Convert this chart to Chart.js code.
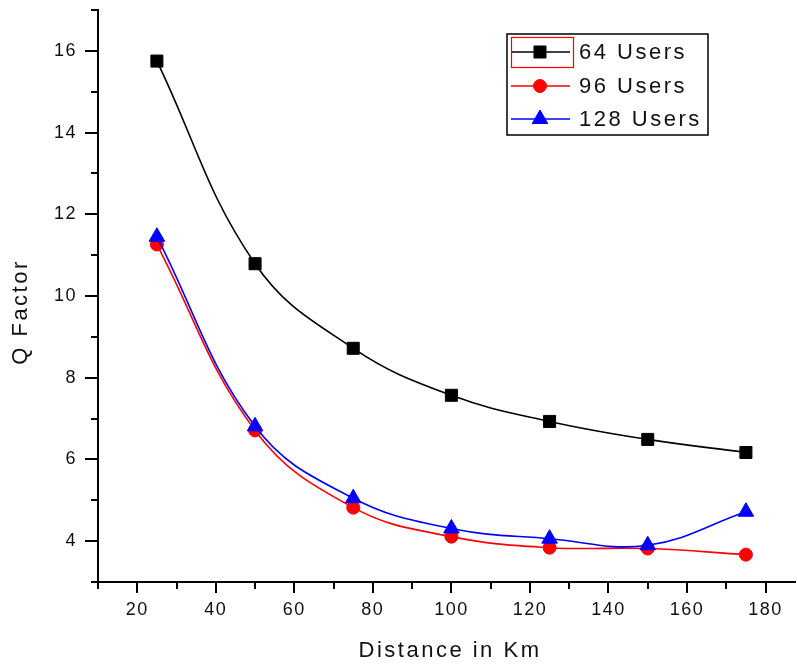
<!DOCTYPE html>
<html>
<head>
<meta charset="utf-8">
<script src="https://cdn.jsdelivr.net/npm/chart.js@4.4.1/dist/chart.umd.min.js"></script>
<style>
html,body{margin:0;padding:0;background:#fff;}
canvas{display:block;}
</style>
</head>
<body>
<canvas id="c" width="797" height="664"></canvas>
<script>
const distances = [25, 50, 75, 100, 125, 150, 175];
const users64 = [15.75, 10.79, 8.72, 7.57, 6.93, 6.49, 6.17];
const users96 = [11.26, 6.71, 4.82, 4.11, 3.84, 3.82, 3.67];
const users128 = [11.45, 6.81, 5.05, 4.31, 4.06, 3.90, 4.72];
const seriesNames = ['64 Users', '96 Users', '128 Users'];
const xMajorTicks = [20, 40, 60, 80, 100, 120, 140, 160, 180];
const xMinorTicks = [10, 30, 50, 70, 90, 110, 130, 150, 170];
const yMajorTicks = [4, 6, 8, 10, 12, 14, 16];
const yMinorTicks = [3, 5, 7, 9, 11, 13, 15, 17];
const xTitle = 'Distance in Km';
const yTitle = 'Q Factor';

const FONT = '"Liberation Sans", Arial, sans-serif';
const toXY = (vals) => vals.map((v, i) => ({x: distances[i], y: v}));

const styles = [
  {color: '#000000', pointStyle: 'rect', radius: 8.5, order: 1},
  {color: '#ff0000', pointStyle: 'circle', radius: 6.5, order: 2},
  {color: '#0000ff', pointStyle: 'triangle', radius: 9, order: 0}
];
const allSeries = [users64, users96, users128];

const datasets = allSeries.map((vals, i) => ({
  label: seriesNames[i],
  data: toXY(vals),
  borderColor: styles[i].color,
  backgroundColor: styles[i].color,
  pointBackgroundColor: styles[i].color,
  pointBorderColor: styles[i].color,
  pointStyle: styles[i].pointStyle,
  pointRadius: styles[i].radius,
  pointHoverRadius: styles[i].radius,
  pointBorderWidth: 1,
  borderWidth: 1.6,
  tension: 0.4,
  cubicInterpolationMode: 'default',
  fill: false,
  order: styles[i].order
}));

const decorPlugin = {
  id: 'decor',
  beforeDraw(chart) {
    chart.ctx.letterSpacing = '1.5px';
  },
  afterDraw(chart) {
    const ctx = chart.ctx;
    const xs = chart.scales.x, ys = chart.scales.y;
    const area = chart.chartArea;
    ctx.save();
    ctx.letterSpacing = '0px';
    ctx.strokeStyle = '#000';
    ctx.lineWidth = 2;
    ctx.beginPath();
    xMajorTicks.forEach(v => { const p = Math.round(xs.getPixelForValue(v)); ctx.moveTo(p, area.bottom); ctx.lineTo(p, area.bottom + 11); });
    xMinorTicks.forEach(v => { const p = Math.round(xs.getPixelForValue(v)); ctx.moveTo(p, area.bottom); ctx.lineTo(p, area.bottom + 7); });
    yMajorTicks.forEach(v => { const p = Math.round(ys.getPixelForValue(v)); ctx.moveTo(area.left, p); ctx.lineTo(area.left - 13, p); });
    yMinorTicks.forEach(v => { const p = Math.round(ys.getPixelForValue(v)); ctx.moveTo(area.left, p); ctx.lineTo(area.left - 7, p); });
    ctx.stroke();

    // axis titles
    ctx.fillStyle = '#111';
    ctx.font = '22px ' + FONT;
    ctx.letterSpacing = '2.5px';
    ctx.textAlign = 'center';
    ctx.textBaseline = 'middle';
    ctx.fillText(xTitle, 450, 651);
    ctx.save();
    ctx.translate(21, 312);
    ctx.rotate(-Math.PI / 2);
    ctx.fillText(yTitle, 0, 0);
    ctx.restore();

    // legend
    const bx = 507, by = 34, bw = 201, bh = 101;
    ctx.lineWidth = 1.5;
    ctx.strokeStyle = '#000';
    ctx.strokeRect(bx, by, bw, bh);
    const rowsY = [52, 86, 119];
    seriesNames.forEach((name, i) => {
      const y = rowsY[i];
      ctx.strokeStyle = styles[i].color;
      ctx.lineWidth = 1.6;
      ctx.beginPath();
      ctx.moveTo(511, y); ctx.lineTo(570, y);
      ctx.stroke();
      ctx.fillStyle = styles[i].color;
      ctx.lineWidth = 1;
      Chart.helpers.drawPoint(ctx, {pointStyle: styles[i].pointStyle, radius: styles[i].radius, rotation: 0, borderWidth: 1}, 540, y);
      ctx.fillStyle = '#111';
      ctx.textAlign = 'left';
      ctx.textBaseline = 'middle';
      ctx.font = '22px ' + FONT;
      ctx.letterSpacing = '2.5px';
      ctx.fillText(name, 579, y + 1);
    });
    ctx.strokeStyle = '#ff0000';
    ctx.lineWidth = 1.2;
    ctx.strokeRect(511.5, 37.5, 62, 30);
    ctx.restore();
  }
};

new Chart(document.getElementById('c'), {
  type: 'line',
  data: {datasets},
  options: {
    responsive: false,
    animation: false,
    events: [],
    layout: {autoPadding: false, padding: {left: 0, right: 2, top: 10, bottom: 0}},
    plugins: {legend: {display: false}, tooltip: {enabled: false}},
    scales: {
      x: {
        type: 'linear',
        min: 10,
        max: 187.5,
        afterBuildTicks: (s) => { s.ticks = xMajorTicks.map(v => ({value: v})); },
        afterFit: (s) => { s.height = 82; s.paddingLeft = 0; s.paddingRight = 0; },
        grid: {display: true, drawOnChartArea: false, drawTicks: true, tickLength: 11, color: 'rgba(0,0,0,0)'},
        border: {display: true, color: '#000', width: 2},
        ticks: {color: '#111', font: {family: FONT, size: 18}, padding: 6, maxRotation: 0, autoSkip: false}
      },
      y: {
        type: 'linear',
        min: 3,
        max: 17,
        afterBuildTicks: (s) => { s.ticks = yMajorTicks.map(v => ({value: v})); },
        afterFit: (s) => { s.width = 98; s.paddingTop = 0; s.paddingBottom = 0; },
        grid: {display: true, drawOnChartArea: false, drawTicks: true, tickLength: 13, color: 'rgba(0,0,0,0)'},
        border: {display: true, color: '#000', width: 2},
        ticks: {color: '#111', font: {family: FONT, size: 18}, padding: 8, autoSkip: false}
      }
    }
  },
  plugins: [decorPlugin]
});
</script>
</body>
</html>
